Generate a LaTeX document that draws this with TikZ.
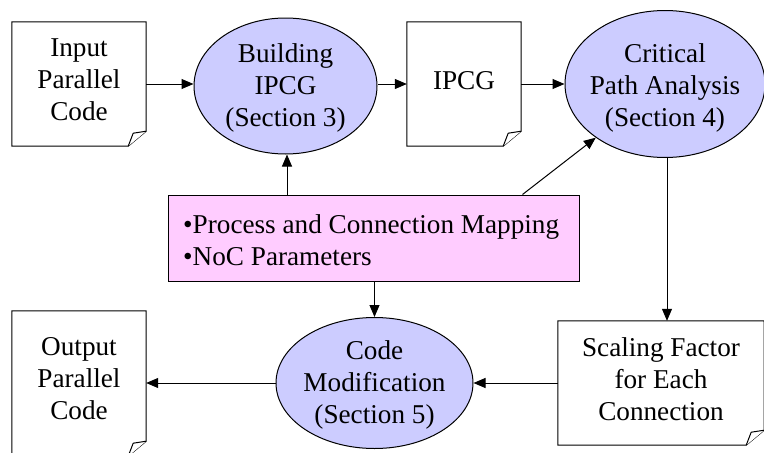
\documentclass[tikz,border=0pt]{standalone}
\usepackage{fontspec}
\setmainfont{Liberation Serif}
\usetikzlibrary{shapes.geometric,arrows.meta}

\definecolor{stepfill}{RGB}{204,204,255}
\definecolor{inputfill}{RGB}{255,204,255}

% outline of a document frame with a folded bottom-right corner
\newcommand\docoutline[1]{%
  \draw[docline] (#1.north west) -- (#1.north east)
    -- ([yshift=15pt]#1.south east) -- ([xshift=-18pt]#1.south east)
    -- (#1.south west) -- cycle;
  \draw[docline,fill=white,line join=round] ([yshift=15pt]#1.south east)
    -- ([xshift=-13pt,yshift=13pt]#1.south east) -- ([xshift=-18pt]#1.south east);
}

\begin{document}
\begin{tikzpicture}[x=1pt,y=-1pt,
  docline/.style={line width=1pt,draw=black},
  frame/.style={rectangle,inner sep=0pt,minimum width=#1},
  ellstep/.style={ellipse,draw=black,line width=1pt,fill=stepfill,inner sep=0pt},
  label/.style={align=center,inner sep=0pt,font=\fontsize{27.2}{32}\selectfont},
  conn/.style={line width=1pt,-{Triangle[length=12pt,width=10pt]}}]
\useasboundingbox (0,0) rectangle (764,453);

% documents
\node[frame=134pt,minimum height=124pt] (inF) at (79,84) {};
\docoutline{inF}
\node[label] (inT) at (79,80) {Input\\Parallel\\Code};

\node[frame=114pt,minimum height=124pt] (ipcgF) at (464,84) {};
\docoutline{ipcgF}
\node[label] (ipcgT) at (464,80.5) {IPCG};

\node[frame=206pt,minimum height=124pt] (scaleF) at (661,383) {};
\docoutline{scaleF}
\node[label] (scaleT) at (661,379.5) {Scaling Factor\\for Each\\Connection};

\node[frame=134pt,minimum height=145pt] (outF) at (79,383.5) {};
\docoutline{outF}
\node[label] (outT) at (79,379) {Output\\Parallel\\Code};

% processing steps
\node[ellstep,minimum width=183pt,minimum height=136pt] (build) at (285.5,86) {};
\node[label] (buildT) at (285.5,88) {Building\\IPCG\\(Section 3)};

\node[ellstep,minimum width=200pt,minimum height=147pt] (crit) at (665,84) {};
\node[label] (critT) at (665,87.5) {Critical\\Path Analysis\\(Section 4)};

\node[ellstep,minimum width=197pt,minimum height=131pt] (code) at (374.5,383) {};
\node[label] (codeT) at (374.5,385) {Code\\Modification\\(Section 5)};

% mapping and NoC parameters
\node[rectangle,draw=black,line width=1pt,fill=inputfill,minimum width=411pt,minimum height=86pt,inner sep=0pt] (map) at (373.5,238) {};
\node[label,align=left,anchor=west] (mapT) at (183,240) {•Process and Connection Mapping\\•NoC Parameters};
\coordinate (mapOut) at ([xshift=-57pt]map.north east);

% connectors
\draw[conn] (inF.east) -- (inF.east -| build.west);
\draw[conn] (ipcgF.west -| build.east) -- (ipcgF.west);
\draw[conn] (ipcgF.east) -- (ipcgF.east -| crit.west);
\draw[conn] ([xshift=1.5pt]build.south |- map.north) -- ([xshift=1.5pt]build.south);
\draw[conn] (mapOut) -- (crit);
\draw[conn] (code.north |- map.south) -- (code.north);
\draw[conn] ([xshift=2pt]crit.south) -- ([xshift=2pt]crit.south |- scaleF.north);
\draw[conn] (scaleF.west) -- (scaleF.west -| code.east);
\draw[conn] (code.west) -- (code.west -| outF.east);
\end{tikzpicture}
\end{document}
